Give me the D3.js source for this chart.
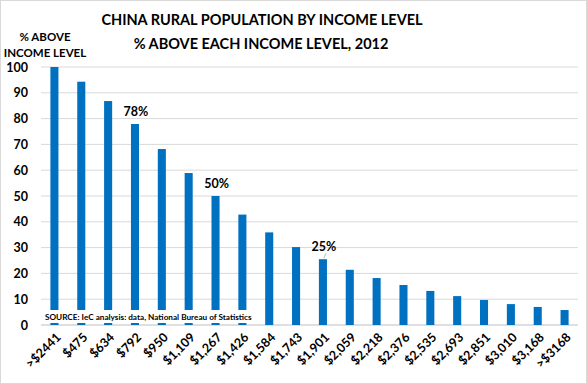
<!DOCTYPE html>
<html>
<head>
<meta charset="utf-8">
<script src="https://cdn.jsdelivr.net/npm/d3@7"></script>
<style>
  body { margin: 0; background: #fff; }
  svg { display: block; font-family: Lato, "Open Sans", sans-serif; }
</style>
</head>
<body>
<svg id="main" width="587" height="384"></svg>
<script>
// income levels (x categories)
var incomeLevels = [">$2441", "$475", "$634", "$792", "$950", "$1,109", "$1,267", "$1,426",
  "$1,584", "$1,743", "$1,901", "$2,059", "$2,218", "$2,376", "$2,535", "$2,693",
  "$2,851", "$3,010", "$3,168", ">$3168"];
// % of rural population above each level
var pctAbove = [100, 94.3, 86.8, 77.9, 68.2, 58.9, 50, 42.8, 35.9, 30.2, 25.5, 21.4,
  18.2, 15.5, 13.2, 11.2, 9.7, 8.1, 7.0, 5.8];
var yTicks = [0, 10, 20, 30, 40, 50, 60, 70, 80, 90, 100];
// callouts
var callouts = [{cat: "$792", label: "78%"}, {cat: "$1,267", label: "50%"}, {cat: "$1,901", label: "25%"}];

var svg = d3.select("#main");
var plot = {left: 41, right: 578, top: 67, bottom: 325};

// outer frame
svg.append("rect")
  .attr("x", 0.5).attr("y", 0.5).attr("width", 586).attr("height", 383)
  .style("fill", "white").style("stroke", "#d9d9d9");

var x = d3.scaleBand().domain(incomeLevels).range([plot.left, plot.right]).paddingInner(0.7).paddingOuter(0.35);
var y = d3.scaleLinear().domain([0, 100]).range([plot.bottom, plot.top]);

// gridlines
svg.append("g").selectAll("line").data(yTicks).join("line")
  .attr("x1", plot.left).attr("x2", plot.right)
  .attr("y1", function(d) { return y(d); }).attr("y2", function(d) { return y(d); })
  .style("stroke", function(d) { return d === 0 ? "#bfbfbf" : "#d9d9d9"; })
  .style("stroke-width", 1);

// y tick labels
svg.append("g").selectAll("text").data(yTicks).join("text")
  .attr("x", 28).attr("y", function(d) { return y(d) + 4.5; })
  .attr("text-anchor", "end")
  .style("font-size", "12.5px").style("font-weight", "bold").style("fill", "#000")
  .text(function(d) { return d; });

// bars
svg.append("g").selectAll("rect").data(pctAbove).join("rect")
  .attr("x", function(d, i) { return x(incomeLevels[i]); })
  .attr("width", x.bandwidth())
  .attr("y", function(d) { return y(d); })
  .attr("height", function(d) { return y(0) - y(d); })
  .style("fill", "#0070C0");

// x labels, rotated
svg.append("g").selectAll("text").data(incomeLevels).join("text")
  .attr("transform", function(d) {
    return "translate(" + (x(d) + x.bandwidth() / 2 + 4) + "," + (plot.bottom + 10) + ") rotate(-45)";
  })
  .attr("text-anchor", "end")
  .attr("dy", "0.35em")
  .style("font-size", "12.5px").style("font-weight", "bold").style("fill", "#000")
  .text(function(d) { return d; });

// callout labels
callouts.forEach(function(c) {
  var i = incomeLevels.indexOf(c.cat);
  var cx = x(c.cat) + x.bandwidth() / 2;
  var top = y(pctAbove[i]);
  svg.append("text")
    .attr("x", cx + 1).attr("y", top - 8)
    .attr("text-anchor", "middle")
    .style("font-size", "12.5px").style("font-weight", "bold")
    .text(c.label);
});
// small leader on the 25% callout
var c25 = x("$1,901") + x.bandwidth() / 2;
svg.append("line")
  .attr("x1", c25 + 3).attr("y1", y(pctAbove[10]) - 6)
  .attr("x2", c25 + 1).attr("y2", y(pctAbove[10]) - 1)
  .style("stroke", "#bfbfbf");

// source box
svg.append("rect").attr("x", 42).attr("y", 310).attr("width", 212).attr("height", 13).style("fill", "white");
svg.append("text")
  .attr("x", 45).attr("y", 320)
  .style("font-size", "8.2px").style("font-weight", "bold")
  .text("SOURCE: IeC analysis: data, National Bureau of Statistics");

// titles
svg.append("text").attr("x", 262).attr("y", 25).attr("text-anchor", "middle")
  .style("font-size", "14.5px").style("font-weight", "bold")
  .text("CHINA RURAL POPULATION BY INCOME LEVEL");
svg.append("text").attr("x", 261).attr("y", 49).attr("text-anchor", "middle")
  .style("font-size", "14.5px").style("font-weight", "bold")
  .text("% ABOVE EACH INCOME LEVEL, 2012");

svg.append("text").attr("x", 45).attr("y", 41).attr("text-anchor", "middle")
  .style("font-size", "11.5px").style("font-weight", "bold").text("% ABOVE");
svg.append("text").attr("x", 45).attr("y", 57).attr("text-anchor", "middle")
  .style("font-size", "11.5px").style("font-weight", "bold").text("INCOME LEVEL");
</script>
</body>
</html>
